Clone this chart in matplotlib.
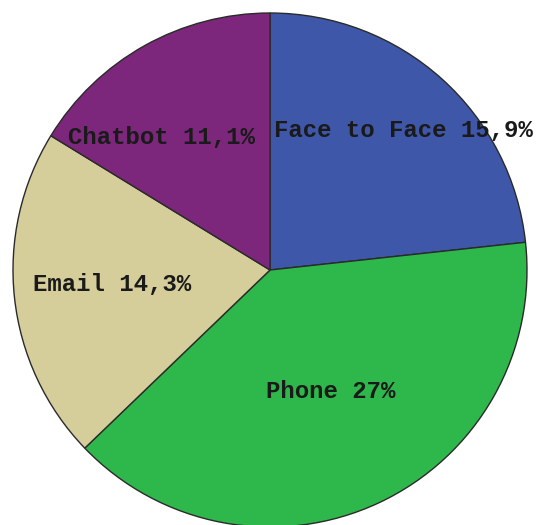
import matplotlib
matplotlib.use("Agg")
import matplotlib.pyplot as plt

categories = ["Face to Face", "Phone", "Email", "Chatbot"]
values = [15.9, 27, 14.3, 11.1]
colors = ["#3F57A9", "#2EB84B", "#D5CD9A", "#7C277C"]

# label anchor points (pixels in the 536x525 image)
label_px = [(274, 131), (266, 392), (33, 285), (68, 138)]

W, H = 536, 525
cx, cy, R = 270, 270, 257

fig = plt.figure(figsize=(W / 100, H / 100), dpi=100)
ax = fig.add_axes([0, 0, 1, 1])
ax.pie(values, colors=colors, startangle=90, counterclock=False, radius=1,
       wedgeprops=dict(edgecolor="#2a2a2a", linewidth=1.0))
ax.set_xlim(-cx / R, (W - cx) / R)
ax.set_ylim(-(H - cy) / R, cy / R)
ax.set_aspect("equal")
ax.axis("off")

for name, v, (px, py) in zip(categories, values, label_px):
    txt = name + " " + f"{v:g}".replace(".", ",") + "%"
    ax.text((px - cx) / R, (cy - py) / R, txt, ha="left", va="center",
            fontfamily="Liberation Mono", fontweight="bold", fontsize=17.3,
            color="#1a1a1a")

fig.savefig("out.png", dpi=100, facecolor="white")
